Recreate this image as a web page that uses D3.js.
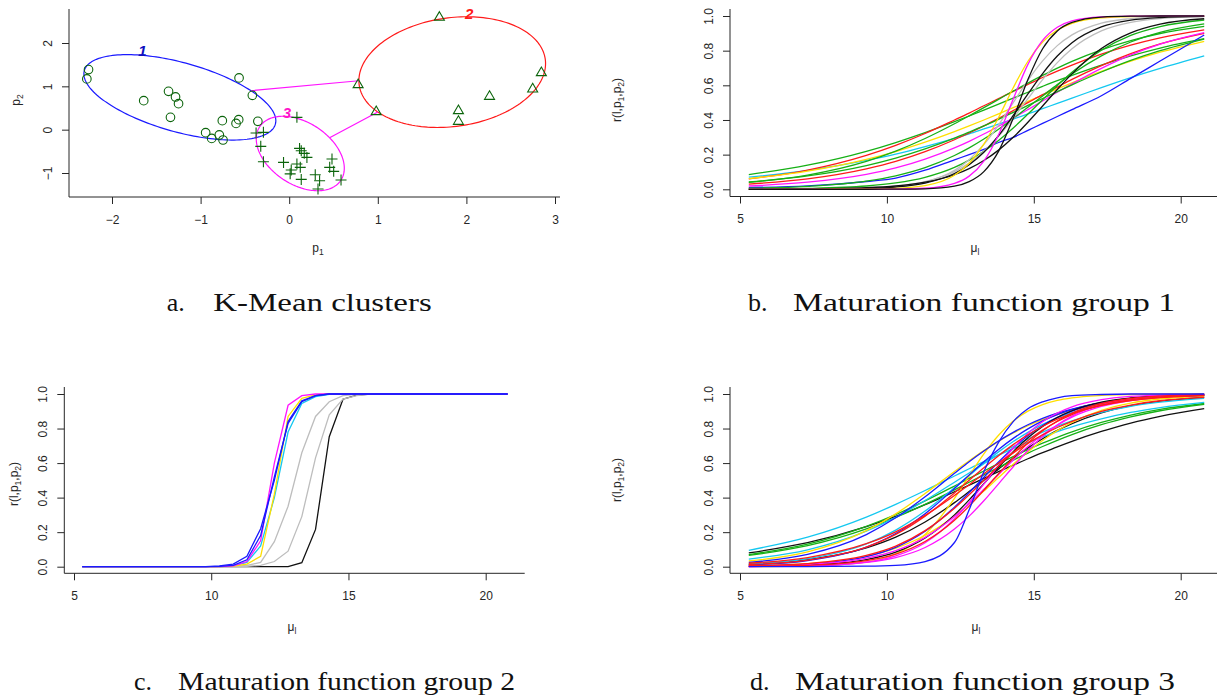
<!DOCTYPE html>
<html><head><meta charset="utf-8">
<script src="https://cdn.jsdelivr.net/npm/d3@7"></script>
<style>body{margin:0;background:#fff}</style>
</head><body><svg id="c" width="1217" height="697"></svg>
<script>
// ---------- Panel a: K-Mean clusters ----------
const g1x = [-2.265,-2.284,-1.642,-1.362,-1.283,-1.249,-1.340,-0.755,-0.570,-0.600,-0.566,-0.416,-0.354,-0.943,-0.875,-0.789,-0.747];
const g1y = [1.386,1.171,0.670,0.885,0.755,0.600,0.284,0.208,0.231,0.145,1.194,0.792,0.192,-0.069,-0.201,-0.122,-0.238];
const g2x = [1.695,0.778,0.982,1.910,1.910,2.261,2.748,2.846];
const g2y = [2.594,1.04,0.416,0.439,0.192,0.769,0.94,1.316];
const g3x = [0.087,-0.374,-0.291,-0.321,-0.291,0.117,0.136,0.170,0.2,-0.064,0.087,0.125,0.023,0.011,0.136,0.483,0.457,0.502,0.585,0.294,0.343,0.325];
const g3y = [0.284,-0.076,-0.062,-0.385,-0.739,-0.432,-0.485,-0.547,-0.64,-0.755,-0.792,-0.87,-0.931,-1.02,-1.148,-0.677,-0.87,-0.962,-1.162,-1.039,-1.178,-1.37];
const clusterIds = ["1","2","3"];
const ellCx = [-1.234, 1.840, 0.125];
const ellCy = [0.746, 1.328, -0.550];
const ellU = [[1.078,-0.619],[1.050,0.300],[0.457,-0.622]];
const ellV = [[-0.106,-0.767],[0.0855,-1.242],[-0.195,-0.593]];
const labelX = [-1.657, 2.031, -0.026];
const labelY = [1.82, 2.672, 0.386];
const links = [[0,1],[2,1]];
const aXTicks = [-2,-1,0,1,2,3];
const aYTicks = [-1,0,1,2];

// ---------- Curve panels ----------
const gridBD = [5.3,7.3,9.3,10.3,11.3,12.3,12.8,13.3,13.8,14.3,14.8,15.3,15.8,16.3,17.3,18.3,19.3,20.8];
const curveXTicks = [5,10,15,20];
const curveYTicks = [0,0.2,0.4,0.6,0.8,1.0];

const group1Colors = ["green","cyan","red","yellow","red","magenta","blue","green","green","green","green","gray","gray","black","black","yellow","magenta","black"];
const group1Values = [
 [0.085,0.139,0.219,0.27,0.327,0.39,0.423,0.457,0.492,0.526,0.56,0.594,0.627,0.658,0.717,0.77,0.815,0.869],
 [0.07,0.109,0.167,0.203,0.246,0.294,0.32,0.348,0.376,0.405,0.435,0.465,0.496,0.526,0.587,0.645,0.698,0.77],
 [0.06,0.111,0.196,0.254,0.322,0.4,0.44,0.482,0.523,0.565,0.605,0.645,0.682,0.717,0.78,0.832,0.874,0.92],
 [0.061,0.105,0.173,0.218,0.272,0.333,0.366,0.4,0.435,0.471,0.507,0.543,0.579,0.614,0.68,0.739,0.791,0.854],
 [0.03,0.06,0.118,0.161,0.217,0.286,0.325,0.366,0.41,0.454,0.5,0.546,0.59,0.634,0.714,0.783,0.839,0.9],
 [0.019,0.041,0.086,0.123,0.174,0.239,0.277,0.319,0.364,0.411,0.46,0.51,0.56,0.608,0.698,0.776,0.838,0.904],
 [0.01,0.02,0.045,0.065,0.11,0.17,0.2,0.23,0.27,0.3,0.34,0.38,0.42,0.46,0.54,0.64,0.74,0.89],
 [0.04,0.082,0.161,0.22,0.293,0.378,0.424,0.471,0.519,0.567,0.613,0.657,0.699,0.738,0.805,0.858,0.899,0.94],
 [0.001,0.005,0.019,0.037,0.069,0.126,0.168,0.22,0.282,0.354,0.434,0.517,0.599,0.675,0.802,0.888,0.939,0.977],
 [0.006,0.017,0.047,0.078,0.125,0.195,0.239,0.29,0.347,0.409,0.474,0.539,0.604,0.665,0.77,0.85,0.906,0.955],
 [0.042,0.077,0.137,0.18,0.233,0.295,0.33,0.366,0.404,0.444,0.484,0.524,0.564,0.603,0.677,0.744,0.8,0.867],
 [0,0.001,0.005,0.015,0.041,0.109,0.171,0.259,0.371,0.5,0.629,0.741,0.829,0.891,0.959,0.985,0.995,0.999],
 [0,0.001,0.007,0.018,0.044,0.102,0.151,0.219,0.306,0.41,0.523,0.633,0.731,0.811,0.914,0.963,0.985,0.996],
 [0,0.001,0.005,0.013,0.036,0.091,0.142,0.214,0.31,0.426,0.55,0.668,0.769,0.846,0.937,0.976,0.991,0.998],
 [0,0.002,0.009,0.019,0.041,0.084,0.119,0.166,0.226,0.3,0.387,0.481,0.576,0.666,0.812,0.903,0.953,0.984],
 [0,0,0.001,0.005,0.021,0.081,0.15,0.261,0.414,0.586,0.739,0.85,0.919,0.958,0.989,0.997,0.999,1],
 [0,0,0,0.001,0.006,0.034,0.076,0.163,0.315,0.521,0.721,0.859,0.935,0.972,0.995,0.999,1,1],
 [0,0,0,0.001,0.003,0.018,0.044,0.102,0.219,0.41,0.633,0.811,0.914,0.963,0.994,0.999,1,1]
];

const gridC = [5.3,9.8,10.3,10.8,11.3,11.8,12.3,12.8,13.3,13.8,14.3,14.8,15.3,15.8,20.8];
const group2Colors = ["black","gray","gray","cyan","yellow","magenta","blue","blue"];
const group2Values = [
 [0,0,0,0,0,0,0,0,0.023,0.216,0.753,0.97,0.994,1,1],
 [0,0,0,0,0.002,0.008,0.03,0.09,0.29,0.63,0.88,0.97,0.99,1,1],
 [0,0,0,0.002,0.007,0.025,0.145,0.35,0.66,0.87,0.955,0.99,0.998,1,1],
 [0,0,0,0.005,0.025,0.12,0.4,0.78,0.945,0.985,0.998,1,1,1,1],
 [0,0,0,0.003,0.015,0.06,0.42,0.87,0.975,0.995,1,1,1,1,1],
 [0,0,0,0.005,0.03,0.15,0.6,0.935,0.99,1,1,1,1,1,1],
 [0,0,0.002,0.008,0.04,0.18,0.52,0.83,0.955,0.99,1,1,1,1,1],
 [0,0,0.005,0.015,0.06,0.22,0.5,0.84,0.96,0.99,1,1,1,1,1]
];

const group3Colors = ["black","black","green","green","cyan","cyan","cyan","yellow","yellow","yellow","blue","blue","blue","black","magenta","magenta","magenta","red","red","red","red","blue"];
const group3Values = [
 [0.08,0.139,0.232,0.291,0.359,0.434,0.472,0.511,0.55,0.588,0.625,0.66,0.694,0.726,0.783,0.832,0.871,0.915],
 [0.015,0.041,0.109,0.171,0.259,0.371,0.435,0.5,0.565,0.629,0.688,0.741,0.789,0.829,0.891,0.933,0.959,0.981],
 [0.07,0.131,0.234,0.302,0.381,0.467,0.511,0.554,0.597,0.638,0.678,0.715,0.749,0.781,0.835,0.878,0.911,0.945],
 [0.065,0.122,0.219,0.285,0.361,0.445,0.489,0.532,0.575,0.617,0.658,0.696,0.732,0.765,0.822,0.867,0.903,0.94],
 [0.095,0.171,0.287,0.361,0.441,0.525,0.567,0.608,0.647,0.684,0.72,0.752,0.782,0.81,0.856,0.893,0.921,0.951],
 [0.015,0.046,0.132,0.212,0.322,0.457,0.528,0.599,0.665,0.725,0.778,0.824,0.862,0.892,0.936,0.963,0.979,0.991],
 [0.044,0.098,0.206,0.286,0.383,0.489,0.543,0.597,0.648,0.696,0.739,0.779,0.814,0.845,0.894,0.929,0.953,0.975],
 [0.033,0.086,0.209,0.306,0.424,0.551,0.613,0.672,0.726,0.774,0.816,0.851,0.881,0.905,0.941,0.964,0.978,0.99],
 [0,0.003,0.027,0.074,0.187,0.396,0.526,0.653,0.761,0.843,0.901,0.939,0.963,0.978,0.992,0.997,0.999,1],
 [0.005,0.018,0.06,0.107,0.182,0.294,0.363,0.438,0.516,0.593,0.665,0.731,0.788,0.835,0.905,0.947,0.971,0.988],
 [0.025,0.071,0.186,0.283,0.405,0.541,0.608,0.67,0.728,0.778,0.822,0.859,0.889,0.913,0.948,0.969,0.982,0.992],
 [0.01,0.035,0.113,0.192,0.307,0.453,0.531,0.608,0.679,0.743,0.798,0.844,0.881,0.91,0.95,0.972,0.985,0.994],
 [0.004,0.015,0.058,0.112,0.205,0.345,0.429,0.518,0.606,0.687,0.758,0.818,0.865,0.901,0.949,0.974,0.987,0.996],
 [0.002,0.009,0.041,0.084,0.166,0.3,0.387,0.481,0.576,0.666,0.746,0.812,0.864,0.903,0.953,0.977,0.989,0.997],
 [0.001,0.005,0.027,0.063,0.139,0.278,0.372,0.478,0.586,0.686,0.772,0.839,0.89,0.926,0.967,0.986,0.994,0.998],
 [0.001,0.005,0.025,0.053,0.111,0.218,0.293,0.382,0.48,0.579,0.673,0.754,0.821,0.872,0.938,0.971,0.987,0.996],
 [0.003,0.013,0.049,0.093,0.17,0.29,0.365,0.448,0.534,0.618,0.696,0.764,0.82,0.866,0.928,0.962,0.981,0.993],
 [0.02,0.053,0.133,0.202,0.297,0.412,0.475,0.538,0.6,0.659,0.714,0.763,0.806,0.842,0.899,0.936,0.961,0.981],
 [0.005,0.018,0.065,0.119,0.209,0.339,0.417,0.5,0.583,0.661,0.731,0.791,0.841,0.881,0.935,0.966,0.982,0.993],
 [0.002,0.008,0.035,0.073,0.146,0.269,0.351,0.443,0.538,0.631,0.716,0.787,0.844,0.889,0.945,0.974,0.988,0.996],
 [0.012,0.038,0.113,0.187,0.293,0.427,0.5,0.573,0.643,0.707,0.764,0.813,0.854,0.887,0.934,0.962,0.979,0.991],
 [0,0.001,0.003,0.008,0.03,0.14,0.33,0.55,0.72,0.84,0.915,0.955,0.978,0.99,0.997,1,1,1]
];

const captionLetters = ["a.","b.","c.","d."];
const captionTexts = ["K-Mean clusters","Maturation function group 1","Maturation function group 2","Maturation function group 3"];

// ---------- styles ----------
const palette = {black:"#111111",red:"#ff1a1a",green:"#16b016",blue:"#1a1aff",cyan:"#14c8f0",magenta:"#ff14ff",yellow:"#ffdf00",gray:"#bdbdbd"};
const ink = "#262626";
const sans = "Liberation Sans, Arial, sans-serif";
const svg = d3.select("#c");

function drawAxes(g, x, y, xTicks, yTicks, xFmt, yFmt, box) {
  g.append("path").attr("d", `M${box.x0},${box.y0}V${box.y1}H${box.x1}`)
    .attr("fill","none").attr("stroke",ink).attr("stroke-width",1);
  const xa = g.append("g").attr("transform",`translate(0,${box.y1})`)
    .call(d3.axisBottom(x).tickValues(xTicks).tickFormat(xFmt).tickSize(7).tickPadding(11).tickSizeOuter(0));
  xa.select(".domain").remove();
  const ya = g.append("g").attr("transform",`translate(${box.x0},0)`)
    .call(d3.axisLeft(y).tickValues(yTicks).tickFormat(yFmt).tickSize(7).tickSizeOuter(0));
  ya.select(".domain").remove();
  ya.selectAll(".tick text").attr("x",0).attr("dy",null).attr("text-anchor","middle")
    .attr("transform","translate(-17.5,0) rotate(-90)");
  [xa,ya].forEach(a => {
    a.attr("font-family",sans).attr("font-size",12);
    a.selectAll("line").attr("stroke",ink);
    a.selectAll("text").attr("fill",ink);
  });
}

function subText(g, x, y, parts, rotate) {
  const t = g.append("text").attr("font-family",sans).attr("font-size",12).attr("fill",ink)
    .attr("text-anchor","middle")
    .attr("transform", rotate ? `translate(${x},${y}) rotate(-90)` : `translate(${x},${y})`);
  parts.forEach(p => {
    const s = t.append("tspan").text(p[0]);
    if (p[1]) s.attr("font-size",8.5).attr("baseline-shift","-3");
  });
  return t;
}

// ---------- Panel a ----------
{
  const g = svg.append("g");
  const x = d3.scaleLinear().domain([-2,3]).range([112,555]);
  const y = d3.scaleLinear().domain([-1,2]).range([173,43]);
  drawAxes(g, x, y, aXTicks, aYTicks, d3.format("d"), d3.format("d"), {x0:69,x1:560,y0:9,y1:197});
  subText(g, 318, 252, [["p"],["1",1]], false);
  subText(g, 20, 100, [["p"],["2",1]], true);

  const ellColors = [palette.blue, palette.red, palette.magenta];
  const ts = d3.range(0, 2*Math.PI, Math.PI/90);
  const ellPts = i => ts.map(t => [
    x(ellCx[i] + ellU[i][0]*Math.cos(t) + ellV[i][0]*Math.sin(t)),
    y(ellCy[i] + ellU[i][1]*Math.cos(t) + ellV[i][1]*Math.sin(t))]);
  const line = d3.line().curve(d3.curveLinearClosed);
  clusterIds.forEach((id,i) => {
    g.append("path").attr("d", line(ellPts(i))).attr("fill","none")
      .attr("stroke", ellColors[i]).attr("stroke-width",1.2);
  });
  function boundary(i, target) {
    const c = [x(ellCx[i]), y(ellCy[i])];
    const U = [x(ellCx[i]+ellU[i][0])-c[0], y(ellCy[i]+ellU[i][1])-c[1]];
    const V = [x(ellCx[i]+ellV[i][0])-c[0], y(ellCy[i]+ellV[i][1])-c[1]];
    const d = [target[0]-c[0], target[1]-c[1]];
    const det = U[0]*V[1]-U[1]*V[0];
    const a = (d[0]*V[1]-d[1]*V[0])/det, b = (U[0]*d[1]-U[1]*d[0])/det;
    const s = 1/Math.hypot(a,b);
    return [c[0]+s*d[0], c[1]+s*d[1]];
  }
  links.forEach(([i,j]) => {
    const ci = [x(ellCx[i]), y(ellCy[i])], cj = [x(ellCx[j]), y(ellCy[j])];
    const p = boundary(i, cj), q = boundary(j, ci);
    g.append("line").attr("x1",p[0]).attr("y1",p[1]).attr("x2",q[0]).attr("y2",q[1])
      .attr("stroke",palette.magenta).attr("stroke-width",1.2);
  });
  const ptColor = "#0b640b";
  g.selectAll(".c1").data(g1x).enter().append("circle")
    .attr("cx",(d,i)=>x(g1x[i])).attr("cy",(d,i)=>y(g1y[i])).attr("r",4.3)
    .attr("fill","none").attr("stroke",ptColor).attr("stroke-width",1.1);
  g.selectAll(".c2").data(g2x).enter().append("path")
    .attr("transform",(d,i)=>`translate(${x(g2x[i])},${y(g2y[i])})`)
    .attr("d","M0,-5.6L5,3L-5,3Z").attr("fill","none").attr("stroke",ptColor).attr("stroke-width",1.1);
  g.selectAll(".c3").data(g3x).enter().append("path")
    .attr("transform",(d,i)=>`translate(${x(g3x[i])},${y(g3y[i])})`)
    .attr("d","M-5.5,0H5.5M0,-5.5V5.5").attr("fill","none").attr("stroke",ptColor).attr("stroke-width",1.1);
  const labColors = ["#1010c0", palette.red, "#ff14c8"];
  clusterIds.forEach((id,i) => {
    g.append("text").attr("x",x(labelX[i])).attr("y",y(labelY[i])+5).attr("text-anchor","middle")
      .attr("font-family",sans).attr("font-size",15).attr("font-style","italic").attr("font-weight","bold")
      .attr("fill",labColors[i]).text(id);
  });
}

// ---------- Curve panels ----------
function curvePanel(xr, yr, box, grid, colors, values, xlab, ylab, smooth) {
  const g = svg.append("g");
  const x = d3.scaleLinear().domain([5,20]).range(xr);
  const y = d3.scaleLinear().domain([0,1]).range(yr);
  drawAxes(g, x, y, curveXTicks, curveYTicks, d3.format("d"), d3.format(".1f"), box);
  const line = d3.line().x((d,i)=>x(grid[i])).y(d=>y(d)).curve(smooth ? d3.curveMonotoneX : d3.curveLinear);
  values.forEach((v,k) => {
    g.append("path").attr("d", line(v)).attr("fill","none")
      .attr("stroke", palette[colors[k]]).attr("stroke-width",1.3);
  });
  subText(g, xlab[0], xlab[1], [["μ"],["l",1]], false);
  subText(g, ylab[0], ylab[1], [["r(l,p"],["1",1],[",p"],["2",1],[")"]], true);
}
curvePanel([740,1180.7],[189.3,16],{x0:730,x1:1222,y0:9,y1:196.5}, gridBD, group1Colors, group1Values, [975,252],[621,100], true);
curvePanel([74,485.7],[566.7,394],{x0:64.3,x1:524.7,y0:387,y1:573.3}, gridC, group2Colors, group2Values, [292,631],[18,484], false);
curvePanel([740,1180.7],[566.7,394],{x0:730,x1:1222,y0:387,y1:573.3}, gridBD, group3Colors, group3Values, [976,631],[621,480], true);

// ---------- Captions ----------
const capLetterX = [166.7, 748, 134, 750];
const capTextX = [213.3, 793, 178, 795];
const capTextLen = [218.4, 382, 337, 380];
const capY = [311, 311, 690, 690];
captionLetters.forEach((l,i) => {
  svg.append("text").attr("x",capLetterX[i]).attr("y",capY[i]).attr("font-family","Liberation Serif, serif")
    .attr("font-size",26).attr("fill","#111").text(l);
  svg.append("text").attr("x",capTextX[i]).attr("y",capY[i]).attr("font-family","Liberation Serif, serif")
    .attr("font-size",26).attr("fill","#111").attr("textLength",capTextLen[i])
    .attr("lengthAdjust","spacingAndGlyphs").text(captionTexts[i]);
});
</script>
</body></html>
